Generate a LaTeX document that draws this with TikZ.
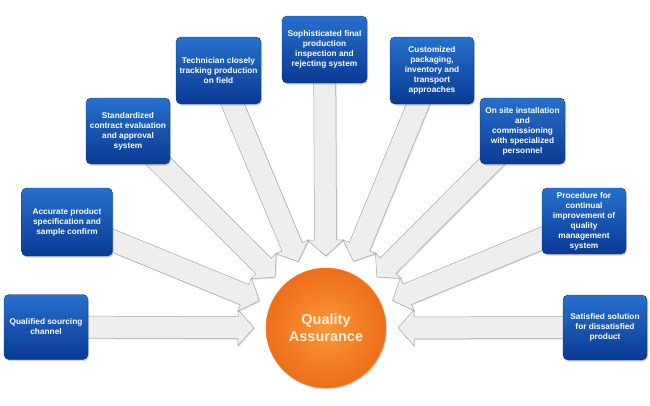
\documentclass[tikz,border=0pt]{standalone}
\usepackage{fontspec}
\newfontfamily\arial{Liberation Sans}
\usetikzlibrary{calc,shadows,backgrounds}
\definecolor{boxtop}{RGB}{38,112,204}
\definecolor{boxbot}{RGB}{10,58,148}
\definecolor{boxline}{RGB}{18,55,125}
\definecolor{arrfill}{RGB}{238,238,238}
\definecolor{arrline}{RGB}{165,165,165}
\definecolor{qain}{RGB}{250,150,55}
\definecolor{qaout}{RGB}{238,110,25}
\definecolor{qatext}{RGB}{255,242,214}
\tikzset{
  qabox/.style={rectangle, rounded corners=5pt, top color=boxtop, bottom color=boxbot,
    draw=boxline, line width=0.4pt, text=white, align=center, inner sep=1pt,
    font=\arial\bfseries\fontsize{8.3}{10}\selectfont,
    drop shadow={shadow xshift=1pt, shadow yshift=-1.5pt, opacity=0.35}},
  qacircle/.style={circle, minimum size=120pt, inner sep=0pt, shading=radial,
    inner color=qain, outer color=qaout, draw=qaout!85!white, line width=0.5pt,
    text=qatext, align=center, font=\arial\bfseries\fontsize{14.5}{17}\selectfont,
    drop shadow={shadow xshift=1pt, shadow yshift=-1.5pt, opacity=0.3}},
  qaarrow/.style={fill=arrfill, draw=arrline, line width=0.5pt, line join=miter,
    drop shadow={shadow xshift=1pt, shadow yshift=-1pt, opacity=0.25}}
}
\newcommand\qaarrow[1]{%
  \coordinate (T) at ($(qa.center)!72pt!(#1.center)$);
  \coordinate (H) at ($(T)!16pt!(#1.center)$);
  \filldraw[qaarrow] ($(#1.center)!11pt!90:(T)$) -- ($(H)!11pt!90:(T)$) -- ($(H)!18pt!90:(T)$) -- (T)
    -- ($(H)!18pt!-90:(T)$) -- ($(H)!11pt!-90:(T)$) -- ($(#1.center)!11pt!-90:(T)$) -- cycle;}
\begin{document}
\begin{tikzpicture}[x=1pt,y=-1pt]
\useasboundingbox (0,0) rectangle (650,405);
\node[qacircle] (qa) at (326,328) {Quality\\Assurance};
\node[qabox, minimum width=84pt, minimum height=65pt] (b1) at (46,327) {Qualified sourcing\\channel};
\node[qabox, minimum width=91pt, minimum height=68pt] (b2) at (67,222) {Accurate product\\specification and\\sample confirm};
\node[qabox, minimum width=84pt, minimum height=66pt] (b3) at (128,131) {Standardized\\contract evaluation\\and approval\\system};
\node[qabox, minimum width=85pt, minimum height=67pt] (b4) at (218.5,70.5) {Technician closely\\tracking production\\on field};
\node[qabox, minimum width=85pt, minimum height=67pt] (b5) at (324.5,49.5) {Sophisticated final\\production\\inspection and\\rejecting system};
\node[qabox, minimum width=84pt, minimum height=67pt] (b6) at (432,70.5) {Customized\\packaging,\\inventory and\\transport\\approaches};
\node[qabox, minimum width=85pt, minimum height=66pt] (b7) at (522.5,131) {On site installation\\and\\commissioning\\with specialized\\personnel};
\node[qabox, minimum width=84pt, minimum height=66pt] (b8) at (584,221) {Procedure for\\continual\\improvement of\\quality\\management\\system};
\node[qabox, minimum width=84pt, minimum height=65pt] (b9) at (605,327.5) {Satisfied solution\\for dissatisfied\\product};
\begin{pgfonlayer}{background}
\foreach \b in {b1,b2,b3,b4,b5,b6,b7,b8,b9}{\qaarrow{\b}}
\end{pgfonlayer}
\end{tikzpicture}
\end{document}
